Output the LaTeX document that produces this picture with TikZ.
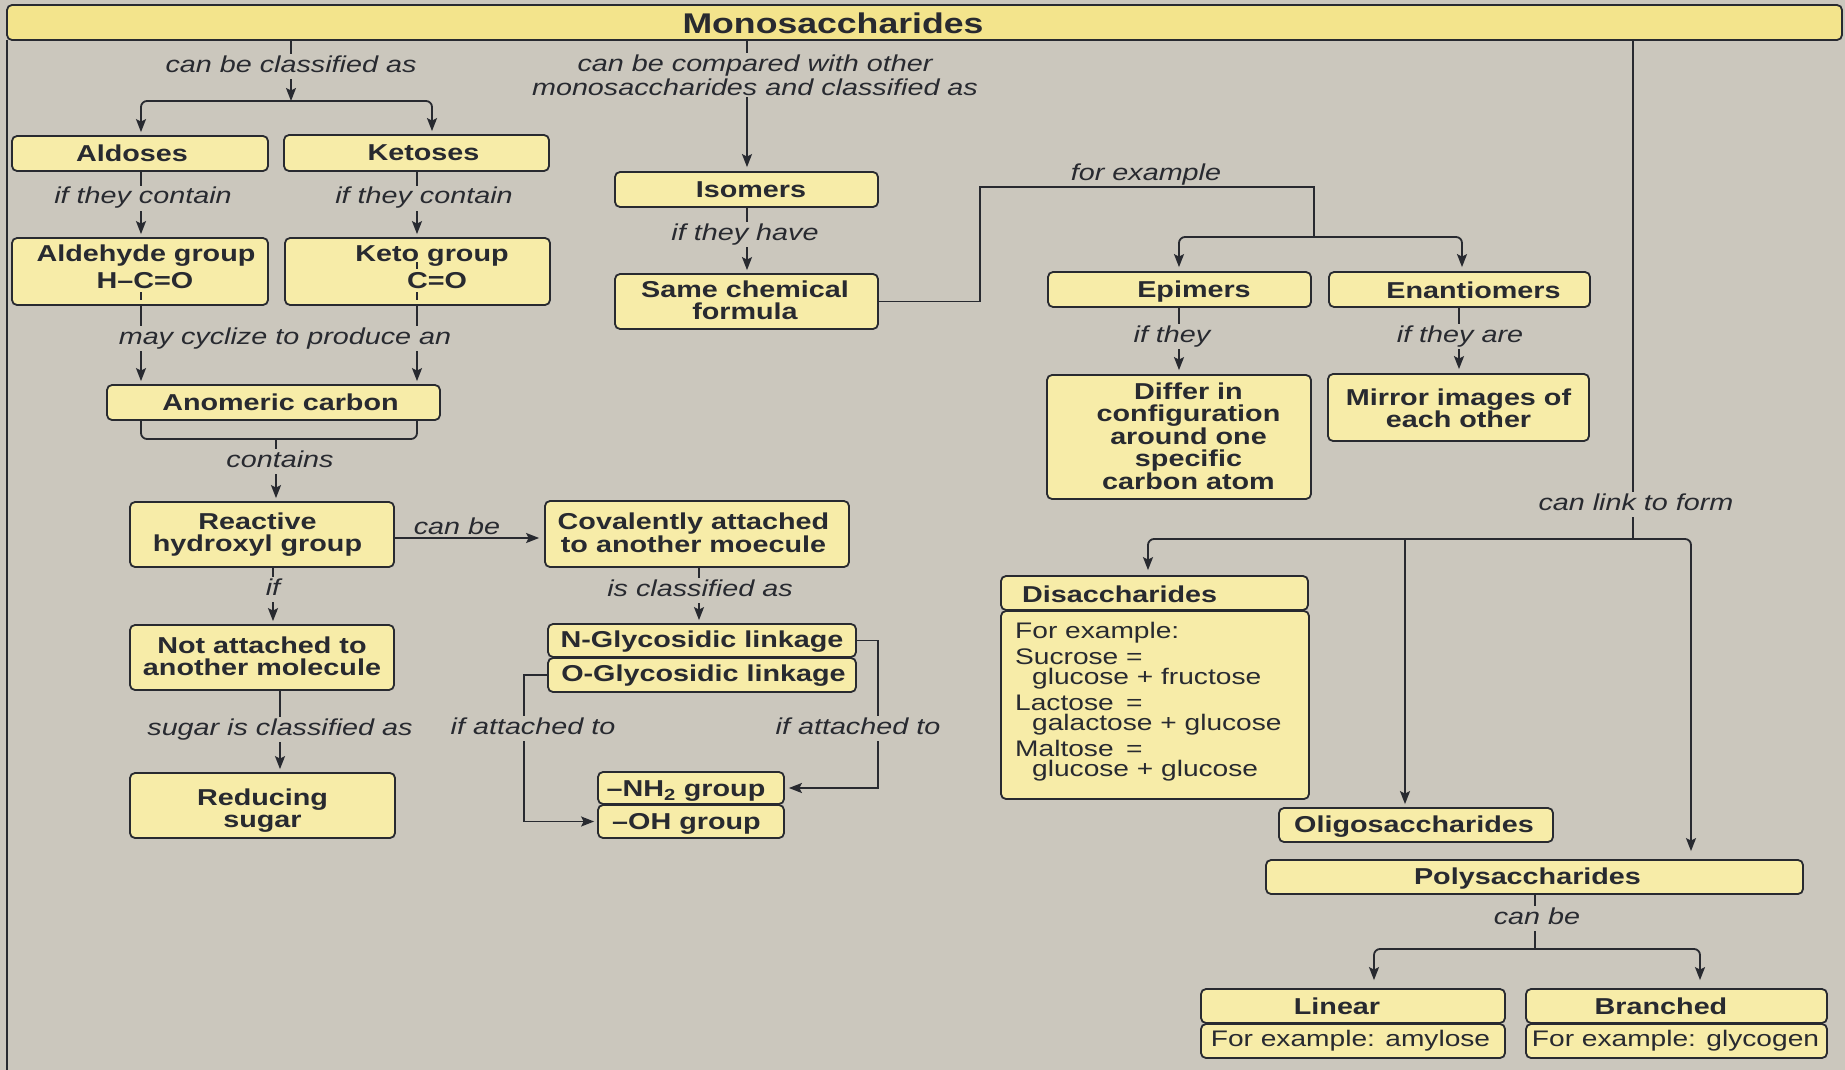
\documentclass[tikz,border=0pt]{standalone}
\usepackage{fontspec}
\setmainfont{Liberation Sans}[FakeStretch=1.25]
\usetikzlibrary{arrows.meta}
\definecolor{bg}{RGB}{203,199,189}
\definecolor{boxfill}{RGB}{247,236,168}
\definecolor{headfill}{RGB}{243,228,140}
\definecolor{ink}{RGB}{40,42,48}
\newcommand\hdfont{\bfseries\fontsize{28.5}{30}\selectfont}
\newcommand\bxfont{\bfseries\fontsize{23}{22.5}\selectfont}
\newcommand\lbfont{\itshape\fontsize{23}{24}\selectfont}
\newcommand\bdfont{\fontsize{22.5}{22}\selectfont}
% name, x1, y1, x2, y2, dx, dy, text
\newcommand\bx[8]{%
  \node[box, minimum width={(#4-#2)*1pt}, minimum height={(#5-#3)*1pt}] (#1) at ({(#2+#4)/2},{(#3+#5)/2}) {};
  \node[boxtxt] (#1-t) at ([shift={(#6,#7)}]#1.center) {#8};}
\begin{document}
\begin{tikzpicture}[x=1pt,y=-1pt,
  box/.style={draw=ink, line width=1.8pt, fill=boxfill, rounded corners=5pt, inner sep=0pt},
  boxtxt/.style={inner sep=0pt, align=center, text=ink, font=\bxfont},
  bodytxt/.style={inner sep=0pt, text=ink, font=\bdfont, text height=15pt, text depth=4.5pt},
  lbl/.style={fill=bg, inner sep=1.5pt, text=ink, font=\lbfont, text height=17pt, text depth=5pt},
  lblnf/.style={inner sep=1.5pt, text=ink, font=\lbfont, text height=17pt, text depth=5pt},
  conn/.style={draw=ink, line width=1.8pt},
  arr/.style={conn, -{Stealth[length=13pt,width=10pt,inset=2.5pt]}, shorten >=3pt},
]
\fill[bg] (0,0) rectangle (1845,1070);
\useasboundingbox (0,0) rectangle (1845,1070);
\draw[ink, line width=1.8pt] (7,40) -- (7,1070);

% header
\node[box, fill=headfill, minimum width=1835pt, minimum height=35pt] (header) at (924.5,22.5) {};
\node[inner sep=0pt, text=ink, font=\hdfont] (header-t) at (833,23) {Monosaccharides};

% boxes
\bx{aldoses}{12}{136}{268}{171}{-8}{0}{Aldoses}
\bx{ketoses}{284}{135}{549}{171}{7}{0}{Ketoses}
\bx{aldehyde}{12}{238}{268}{305}{0}{0}{}
\bx{keto}{285}{238}{550}{305}{0}{0}{}
\node[boxtxt] (aldehyde-a) at (146,256) {Aldehyde group};
\node[boxtxt] (aldehyde-b) at (145,280.5) {H–C=O};
\node[boxtxt] (keto-a) at (432,256) {Keto group};
\node[boxtxt] (keto-b) at (437,281) {C=O};
\bx{anomeric}{107}{385}{440}{420}{7}{0}{Anomeric carbon}
\bx{reactive}{130}{502}{394}{567}{-4.5}{0}{Reactive\\hydroxyl group}
\bx{notatt}{130}{625}{394}{690}{0}{-1}{Not attached to\\another molecule}
\bx{reducing}{130}{773}{395}{838}{0}{5}{Reducing\\sugar}
\bx{isomers}{615}{172}{878}{207}{4.5}{0}{Isomers}
\bx{same}{615}{274}{878}{329}{-1.5}{-1}{Same chemical\\formula}
\bx{coval}{545}{501}{849}{567}{-3.5}{-1}{Covalently attached\\to another moecule}
\bx{nglyc}{548}{624}{856}{657}{0}{1}{N-Glycosidic linkage}
\bx{oglyc}{548}{658}{856}{692}{1.5}{1}{O-Glycosidic linkage}
\bx{nh2}{598}{772}{784}{804}{-5}{3}{–NH\textsubscript{2} group}
\bx{oh}{598}{805}{784}{838}{-4.5}{2}{–OH group}
\bx{epimers}{1048}{272}{1311}{307}{14.5}{2}{Epimers}
\bx{enant}{1329}{272}{1590}{307}{14}{1}{Enantiomers}
\bx{differ}{1047}{375}{1311}{499}{9.5}{-1}{Differ in\\configuration\\around one\\specific\\carbon atom}
\bx{mirror}{1328}{374}{1589}{441}{0}{1}{Mirror images of\\each other}
\bx{disach}{1001}{576}{1308}{610}{0}{0}{}
\node[boxtxt, anchor=west] (disach-t) at (1022,594) {Disaccharides};
\bx{disbody}{1001}{611}{1309}{799}{0}{0}{}
\node[bodytxt, anchor=west] (d1) at (1015,633) {For example:};
\node[bodytxt, anchor=west] (d2) at (1015,659) {\makebox[111pt][l]{Sucrose}=};
\node[bodytxt, anchor=west] (d3) at (1032,679) {glucose + fructose};
\node[bodytxt, anchor=west] (d4) at (1015,705) {\makebox[111pt][l]{Lactose}=};
\node[bodytxt, anchor=west] (d5) at (1032,725) {galactose + glucose};
\node[bodytxt, anchor=west] (d6) at (1015,751) {\makebox[111pt][l]{Maltose}=};
\node[bodytxt, anchor=west] (d7) at (1032,771) {glucose + glucose};
\bx{oligo}{1279}{808}{1553}{842}{-2}{2}{Oligosaccharides}
\bx{poly}{1266}{860}{1803}{894}{-7}{2}{Polysaccharides}
\bx{linear}{1201}{989}{1505}{1023}{-16}{0}{Linear}
\bx{branched}{1526}{989}{1827}{1023}{-15.5}{0}{Branched}
\node[box, minimum width=304pt, minimum height=34pt] (linbody) at (1353,1041) {};
\node[bodytxt] (linbody-t) at (1350.5,1041) {For example: amylose};
\node[box, minimum width=301pt, minimum height=34pt] (brbody) at (1676.5,1041) {};
\node[bodytxt] (brbody-t) at (1675.5,1041) {For example: glycogen};

% coordinates for connector x/y positions
\coordinate (j1) at (291,101);
\coordinate (xa) at (141,0);
\coordinate (xk) at (432,0);
\coordinate (xke) at (417,0);
\coordinate (jb) at (276,439);
\coordinate (xr) at (273,0);
\coordinate (xn) at (280,0);
\coordinate (yc) at (0,538);
\coordinate (xc) at (699,0);
\coordinate (cr1) at (878,0);
\coordinate (cl1) at (524,0);
\coordinate (xi) at (747,0);
\coordinate (fe1) at (980,187);
\coordinate (jf) at (1314,237);
\coordinate (xe) at (1179,0);
\coordinate (xen) at (1462,0);
\coordinate (xm) at (1459,0);
\coordinate (jl) at (1633,539);
\coordinate (xd) at (1148,0);
\coordinate (xo) at (1405,0);
\coordinate (xp) at (1691,0);
\coordinate (jp) at (1535,949);
\coordinate (xli) at (1374,0);
\coordinate (xbr) at (1700,0);

% connectors
\draw[arr, shorten >=0pt] (header.south -| j1) -- (j1);
\draw[arr, rounded corners=6pt] (j1) -| (aldoses.north -| xa);
\draw[arr, rounded corners=6pt] (j1) -| (ketoses.north -| xk);
\draw[arr] (aldoses.south -| xa) -- (aldehyde.north -| xa);
\draw[arr] (ketoses.south -| xke) -- (keto.north -| xke);
\draw[arr] (aldehyde.south -| xa) -- (anomeric.north -| xa);
\draw[arr] (keto.south -| xke) -- (anomeric.north -| xke);
\draw[conn, line width=1.6pt] (141,292) -- (141,300);
\draw[conn, line width=1.6pt] (417,262) -- (417,269);
\draw[conn, line width=1.6pt] (417,292) -- (417,300);
\draw[conn, rounded corners=6pt] (anomeric.south -| xa) |- (jb) -| (anomeric.south -| xke);
\draw[arr] (jb) -- (reactive.north -| jb);
\draw[arr] (reactive.south -| xr) -- (notatt.north -| xr);
\draw[arr] (notatt.south -| xn) -- (reducing.north -| xn);
\draw[arr, shorten >=5pt] (reactive.east |- yc) -- (coval.west |- yc);
\draw[arr] (coval.south -| xc) -- (nglyc.north -| xc);
\draw[arr, shorten >=4pt] (nglyc.east) -| (cr1 |- nh2.east) -- (nh2.east);
\draw[arr] (oglyc.west) -| (cl1 |- oh.west) -- (oh.west);
\draw[arr, shorten >=4pt] (header.south -| xi) -- (isomers.north -| xi);
\draw[arr] (isomers.south -| xi) -- (same.north -| xi);
\draw[conn] (same.east) -| (fe1) -| (jf);
\draw[arr, rounded corners=6pt, shorten >=4pt] (jf) -| (epimers.north -| xe);
\draw[arr, rounded corners=6pt, shorten >=4pt] (jf) -| (enant.north -| xen);
\draw[arr, shorten >=4pt] (epimers.south -| xe) -- (differ.north -| xe);
\draw[arr, shorten >=4pt] (enant.south -| xm) -- (mirror.north -| xm);
\draw[conn] (header.south -| jl) -- (jl);
\draw[arr, rounded corners=6pt, shorten >=5pt] (jl) -| (disach.north -| xd);
\draw[arr] (xo |- jl) -- (oligo.north -| xo);
\draw[arr, rounded corners=6pt, shorten >=8pt] (jl) -| (poly.north -| xp);
\draw[conn] (poly.south -| jp) -- (jp);
\draw[arr, rounded corners=6pt, shorten >=8pt] (jp) -| (linear.north -| xli);
\draw[arr, rounded corners=6pt, shorten >=8pt] (jp) -| (branched.north -| xbr);

% labels
\node[lbl] (l1) at (291,67) {can be classified as};
\node[lbl] (l2) at (143,198) {if they contain};
\node[lbl] (l3) at (424,198) {if they contain};
\node[lbl] (l4) at (285,338) {may cyclize to produce an};
\node[lbl] (l5) at (280,461) {contains};
\node[lbl] (l6) at (273,589) {if};
\node[lbl] (l7) at (280,729) {sugar is classified as};
\node[lblnf] (l8) at (457,528) {can be};
\node[lbl] (l9) at (700,590) {is classified as};
\node[lbl] (l10) at (533,728) {if attached to};
\node[lbl] (l11) at (858,728) {if attached to};
\node[lbl, align=center, text height=, text depth=] (l12) at (755,75) {can be compared with other\\monosaccharides and classified as};
\node[lbl] (l13) at (745,234) {if they have};
\node[lblnf] (l14) at (1146,174) {for example};
\node[lbl] (l15) at (1172,336) {if they};
\node[lbl] (l16) at (1460,336) {if they are};
\node[lbl] (l17) at (1636,504) {can link to form};
\node[lbl] (l18) at (1537,918) {can be};
\end{tikzpicture}
\end{document}
